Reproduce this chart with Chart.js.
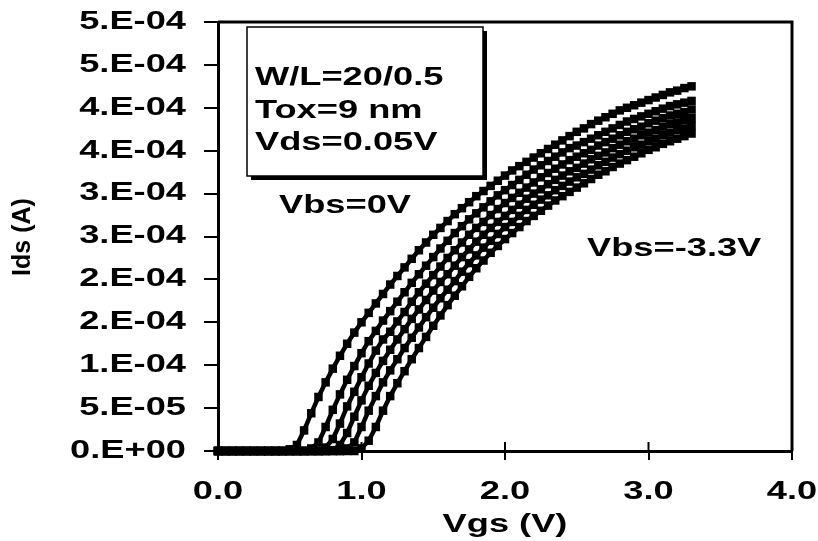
<!DOCTYPE html>
<html>
<head>
<meta charset="utf-8">
<script src="https://cdn.jsdelivr.net/npm/chart.js@4.4.1/dist/chart.umd.min.js"></script>
<style>
  html, body { margin: 0; padding: 0; background: #fff; }
  #wrap { width: 818px; height: 541px; }
</style>
</head>
<body>
<div id="wrap"><canvas id="chart" width="818" height="541"></canvas></div>
<script>
// Vgs sweep (V)
const vgs = [0.00,0.05,0.10,0.15,0.20,0.25,0.30,0.35,0.40,0.45,
             0.50,0.55,0.60,0.65,0.70,0.75,0.80,0.85,0.90,0.95,
             1.00,1.05,1.10,1.15,1.20,1.25,1.30,1.35,1.40,1.45,
             1.50,1.55,1.60,1.65,1.70,1.75,1.80,1.85,1.90,1.95,
             2.00,2.05,2.10,2.15,2.20,2.25,2.30,2.35,2.40,2.45,
             2.50,2.55,2.60,2.65,2.70,2.75,2.80,2.85,2.90,2.95,
             3.00,3.05,3.10,3.15,3.20,3.25,3.30];

// Ids in uA, one array per body bias (Vbs = 0V first, Vbs = -3.3V last)
const ids1 = [0,0,0,0,0,0,0,0,0,0,
              2,7,24,44,63,80,96,111,125,138,
              150,161,172,183,194,204,214,224,234,243,
              252,260,268,276,283,290,297,303,309,315,
              321,327,332,337,342,347,352,357,362,367,
              372,376,381,385,389,393,397,400,403,406,
              409,412,415,418,420,423,425];
const ids2 = [0,0,0,0,0,0,0,0,0,0,
              0,0,0,3,10,28,48,66,83,99,
              114,128,140,152,163,174,185,196,206,216,
              226,236,245,254,262,270,277,284,291,298,
              304,310,316,322,328,333,338,343,348,353,
              356,360,364,368,372,376,380,384,387,390,
              393,396,399,402,404,406,408];
const ids3 = [0,0,0,0,0,0,0,0,0,0,
              0,0,0,0,0,4,14,32,52,69,
              86,102,117,130,139,151,162,174,185,195,
              205,215,225,234,243,252,260,267,275,282,
              289,295,301,307,313,319,324,329,334,339,
              343,347,351,356,360,364,368,372,375,378,
              382,385,388,391,393,395,398];
const ids4 = [0,0,0,0,0,0,0,0,0,0,
              0,0,0,0,0,0,1,7,21,40,
              59,76,91,105,118,130,142,154,165,176,
              187,197,206,216,226,235,244,252,260,267,
              274,281,287,294,300,305,311,316,321,326,
              330,335,340,344,348,353,357,361,364,368,
              371,374,378,381,383,386,388];
const ids5 = [0,0,0,0,0,0,0,0,0,0,
              0,0,0,0,0,0,0,0,3,10,
              28,47,64,80,94,107,120,132,144,156,
              167,178,188,198,209,219,228,237,245,253,
              261,267,274,281,287,293,298,304,309,314,
              319,323,328,333,337,342,346,350,354,357,
              361,364,368,371,374,376,379];
const ids6 = [0,0,0,0,0,0,0,0,0,0,
              0,0,0,0,0,0,0,0,0,0,
              3,12,28,47,64,79,93,107,120,133,
              146,158,170,181,192,203,213,222,231,239,
              247,254,261,268,274,280,286,292,297,302,
              307,312,317,322,326,331,335,339,343,347,
              351,354,358,361,364,367,370];

const seriesNames = ['Vbs=0V', 'Vbs 2', 'Vbs 3', 'Vbs 4', 'Vbs 5', 'Vbs=-3.3V'];

const xTicks = [0, 1, 2, 3, 4];
const xTickLabels = ['0.0', '1.0', '2.0', '3.0', '4.0'];
const yTicks = [0, 5e-5, 1e-4, 1.5e-4, 2e-4, 2.5e-4, 3e-4, 3.5e-4, 4e-4, 4.5e-4, 5e-4];
const yTickLabels = ['0.E+00', '5.E-05', '1.E-04', '2.E-04', '2.E-04', '3.E-04',
                     '3.E-04', '4.E-04', '4.E-04', '5.E-04', '5.E-04'];
const boxLines = ['W/L=20/0.5', 'Tox=9 nm', 'Vds=0.05V'];

const FONT = 'bold 25px "Liberation Sans", Arial, sans-serif';
const SX = 1.45; // the original text is stretched sideways

function wideText(ctx, txt, x, y, align, base) {
  ctx.save();
  ctx.translate(x, y);
  ctx.scale(SX, 1);
  ctx.font = FONT;
  ctx.fillStyle = '#000';
  ctx.textAlign = align;
  ctx.textBaseline = base;
  ctx.fillText(txt, 0, 0);
  ctx.restore();
}

const decor = {
  id: 'decor',
  beforeDatasetsDraw(chart) {
    const { ctx, chartArea: a, scales: { x } } = chart;
    ctx.save();
    ctx.strokeStyle = '#000';
    ctx.lineWidth = 3;
    ctx.beginPath();
    ctx.moveTo(a.left, a.top);
    ctx.lineTo(a.right, a.top);
    ctx.lineTo(a.right, a.bottom);
    ctx.stroke();
    // inner half of the x ticks
    ctx.lineWidth = 2;
    xTicks.forEach(v => {
      const px = x.getPixelForValue(v);
      ctx.beginPath();
      ctx.moveTo(px, a.bottom);
      ctx.lineTo(px, a.bottom - 9);
      ctx.stroke();
    });
    ctx.restore();
  },
  afterDraw(chart) {
    const { ctx, chartArea: a, scales: { x, y } } = chart;

    y.ticks.forEach((t, i) => wideText(ctx, yTickLabels[i], a.left - 32, y.getPixelForValue(t.value), 'right', 'middle'));
    x.ticks.forEach((t, i) => wideText(ctx, xTickLabels[i], x.getPixelForValue(t.value), 499, 'center', 'alphabetic'));
    wideText(ctx, 'Vgs (V)', (a.left + a.right) / 2, 532, 'center', 'alphabetic');

    ctx.save();
    ctx.translate(23, 237);
    ctx.rotate(-Math.PI / 2);
    ctx.font = 'bold 25px "Liberation Sans", Arial, sans-serif';
    ctx.fillStyle = '#000';
    ctx.textAlign = 'center';
    ctx.textBaseline = 'middle';
    ctx.fillText('Ids (A)', 0, 0);
    ctx.restore();

    // text box with shadow
    const bx = a.left + 29, by = a.top + 5, bw = 236, bh = 149;
    ctx.save();
    ctx.fillStyle = '#000';
    ctx.fillRect(bx + 4, by + 4, bw, bh);
    ctx.fillStyle = '#fff';
    ctx.fillRect(bx, by, bw, bh);
    ctx.strokeStyle = '#000';
    ctx.lineWidth = 1.5;
    ctx.strokeRect(bx, by, bw, bh);
    ctx.restore();
    boxLines.forEach((s, i) => wideText(ctx, s, bx + 8, by + 58 + i * 32.5, 'left', 'alphabetic'));

    wideText(ctx, 'Vbs=0V', 279, 213, 'left', 'alphabetic');
    wideText(ctx, 'Vbs=-3.3V', 587, 256, 'left', 'alphabetic');
  }
};

const idsSeries = [ids1, ids2, ids3, ids4, ids5, ids6];
const datasets = idsSeries.map((ids, k) => ({
  label: seriesNames[k],
  data: vgs.map((v, i) => ({ x: v, y: ids[i] * 1e-6 })),
  showLine: true,
  borderColor: '#000',
  borderWidth: 4.5,
  pointStyle: 'rect',
  pointRadius: 6,
  pointBackgroundColor: '#000',
  pointBorderWidth: 0,
  clip: false
}));

new Chart(document.getElementById('chart'), {
  type: 'scatter',
  data: { datasets },
  options: {
    responsive: false,
    animation: false,
    layout: { padding: { top: 22, right: 26, left: 0, bottom: 0 } },
    plugins: { legend: { display: false }, tooltip: { enabled: false } },
    scales: {
      x: {
        type: 'linear', min: 0, max: 4,
        afterBuildTicks: s => { s.ticks = xTicks.map(v => ({ value: v })); },
        afterFit: s => { s.height = 90; },
        ticks: { display: false },
        grid: { drawOnChartArea: false, drawTicks: true, tickLength: 9, color: '#000', lineWidth: 2 },
        border: { display: true, color: '#000', width: 3 }
      },
      y: {
        type: 'linear', min: 0, max: 5e-4,
        afterBuildTicks: s => { s.ticks = yTicks.map(v => ({ value: v })); },
        afterFit: s => { s.width = 218; },
        ticks: { display: false },
        grid: { drawOnChartArea: false, drawTicks: true, tickLength: 14, color: '#000', lineWidth: 2 },
        border: { display: true, color: '#000', width: 3 }
      }
    }
  },
  plugins: [decor]
});
</script>
</body>
</html>
